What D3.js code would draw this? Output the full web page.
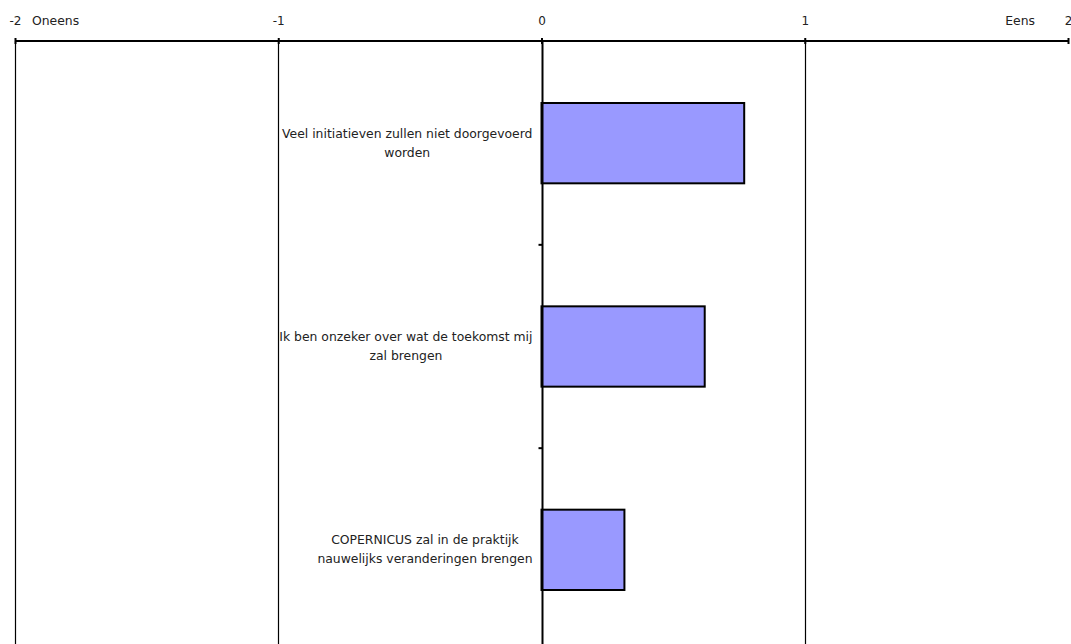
<!DOCTYPE html>
<html>
<head>
<meta charset="utf-8">
<script src="https://cdn.jsdelivr.net/npm/d3@7"></script>
<style>
  html, body { margin: 0; padding: 0; background: #fff; }
  svg { display: block; }
  text { font-family: "DejaVu Sans", Verdana, sans-serif; fill: #222; }
</style>
</head>
<body>
<svg id="chart" width="1071" height="644"></svg>
<script>
// Statements (wrapped onto lines as displayed) and mean agreement scores
const statements = [
  ["Veel initiatieven zullen niet doorgevoerd", "worden"],
  ["Ik ben onzeker over wat de toekomst mij", "zal brengen"],
  ["COPERNICUS zal in de praktijk", "nauwelijks veranderingen brengen"]
];
const scores = [0.77, 0.62, 0.315];
const tickValues = [-2, -1, 0, 1, 2];
const leftLabel = "Oneens";
const rightLabel = "Eens";

const svg = d3.select("#chart");
const margin = { top: 41, left: 15, right: 3, bottom: -6 };
const width = 1071, height = 644;
const fontSize = 12.4;

const x = d3.scaleLinear().domain([-2, 2]).range([margin.left, width - margin.right]);
const y = d3.scaleBand()
  .domain(d3.range(statements.length))
  .range([margin.top + 1, height - margin.bottom + 1])
  .paddingInner(0.605)
  .paddingOuter(0.3);

// Vertical gridlines at -2, -1 and 1
svg.append("g")
  .selectAll("line")
  .data(tickValues.filter(v => v !== 0 && v !== 2))
  .join("line")
  .attr("x1", d => Math.round(x(d)) + 0.5)
  .attr("x2", d => Math.round(x(d)) + 0.5)
  .attr("y1", margin.top)
  .attr("y2", height)
  .attr("stroke", "#000")
  .attr("stroke-width", 1.2);

// Bars
svg.append("g")
  .selectAll("rect")
  .data(scores)
  .join("rect")
  .attr("x", x(0))
  .attr("y", (d, i) => y(i))
  .attr("width", d => x(d) - x(0))
  .attr("height", y.bandwidth())
  .attr("fill", "#9999ff")
  .attr("stroke", "#000")
  .attr("stroke-width", 2);

// Category axis along zero, with ticks between categories
const zeroX = Math.round(x(0)) + 0.5;
svg.append("line")
  .attr("x1", zeroX).attr("x2", zeroX)
  .attr("y1", margin.top).attr("y2", height)
  .attr("stroke", "#000").attr("stroke-width", 2);

const sepY = d3.range(1, statements.length).map(i => (y(i - 1) + y.bandwidth() + y(i)) / 2);
svg.append("g")
  .selectAll("line")
  .data(sepY)
  .join("line")
  .attr("x1", zeroX - 4).attr("x2", zeroX)
  .attr("y1", d => d).attr("y2", d => d)
  .attr("stroke", "#000").attr("stroke-width", 2);

// Top value axis
const xAxis = d3.axisTop(x).tickValues(tickValues).tickSize(3).tickPadding(12).tickFormat(d => String(d));
const axisG = svg.append("g")
  .attr("transform", `translate(0,${margin.top})`)
  .call(xAxis);
axisG.select(".domain").attr("stroke", "#000").attr("stroke-width", 2).attr("d", `M${x(-2)},0H${x(2)}`);
axisG.selectAll(".tick line").attr("y1", -3).attr("y2", 3).attr("stroke", "#000").attr("stroke-width", 2);
axisG.selectAll(".tick text")
  .attr("font-family", "DejaVu Sans, Verdana, sans-serif")
  .attr("font-size", 12)
  .attr("fill", "#222")
  .attr("dy", "-1");

// End labels
svg.append("text")
  .attr("x", x(-2) + 17)
  .attr("y", 25)
  .attr("font-size", fontSize)
  .text(leftLabel);
svg.append("text")
  .attr("x", x(2) - 33)
  .attr("y", 25)
  .attr("text-anchor", "end")
  .attr("font-size", fontSize)
  .text(rightLabel);

// Category labels: block right-aligned near the zero axis, lines centred within the block
const labelRight = x(0) - 9;
const lineH = 19;
statements.forEach((lines, i) => {
  const g = svg.append("g");
  const texts = g.selectAll("text")
    .data(lines)
    .join("text")
    .attr("font-size", fontSize)
    .text(d => d);
  const maxW = d3.max(texts.nodes(), n => n.getComputedTextLength());
  const cx = labelRight - maxW / 2;
  const cy = y(i) + y.bandwidth() / 2;
  texts
    .attr("x", cx)
    .attr("text-anchor", "middle")
    .attr("y", (d, j) => cy + (j - (lines.length - 1) / 2) * lineH + 4);
});
</script>
</body>
</html>
